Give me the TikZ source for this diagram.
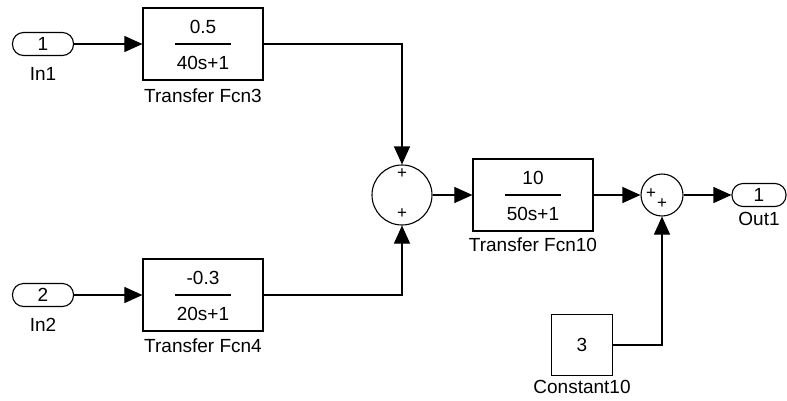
\documentclass[tikz,border=0pt]{standalone}
\usepackage{fontspec}
\setmainfont{Liberation Sans}
\usetikzlibrary{arrows.meta, positioning}

\begin{document}
\begin{tikzpicture}[
      x=1pt, y=-1pt,
      font=\fontsize{19pt}{21pt}\selectfont,
      box/.style={draw, line width=1.2pt, minimum width=120pt, minimum height=72pt, inner sep=0pt},
      port/.style={draw, line width=1.1pt, rounded corners=11pt, minimum width=61pt, minimum height=23pt, inner sep=0pt},
      sumc/.style={draw, circle, line width=1.1pt, inner sep=0pt},
      lbl/.style={inner sep=0pt},
      sgn/.style={inner sep=0pt, font=\fontsize{17pt}{17pt}\selectfont},
      arrow/.style={-{Triangle[length=18pt, width=16pt]}, line width=1.1pt}
  ]
    \useasboundingbox (0,0) rectangle (787,400);

    % inputs
    \node[port] (in1) at (43,44) {1};
    \node[lbl, below=11pt of in1] {In1};
    \node[port] (in2) at (43,295) {2};
    \node[lbl, below=11pt of in2] {In2};

    % first stage
    \node[box] (fcn3) at (203,44) {};
    \draw[line width=1.1pt] ([xshift=-28pt]fcn3.center) -- ([xshift=28pt]fcn3.center);
    \node[lbl] at ([yshift=17pt]fcn3.center) {0.5};
    \node[lbl] at ([yshift=-19pt]fcn3.center) {40s+1};
    \node[lbl, below=8pt of fcn3] {Transfer Fcn3};

    \node[box] (fcn4) at (203,295) {};
    \draw[line width=1.1pt] ([xshift=-28pt]fcn4.center) -- ([xshift=28pt]fcn4.center);
    \node[lbl] at ([yshift=17pt]fcn4.center) {-0.3};
    \node[lbl] at ([yshift=-19pt]fcn4.center) {20s+1};
    \node[lbl, below=7pt of fcn4] {Transfer Fcn4};

    % sums
    \node[sumc, minimum size=60pt] (sum1) at (402,195) {};
    \node[sgn] at ([yshift=21pt]sum1.center) {+};
    \node[sgn] at ([yshift=-19pt]sum1.center) {+};

    \node[box, minimum height=72pt] (fcn10) at (533,195) {};
    \draw[line width=1.1pt] ([xshift=-28pt]fcn10.center) -- ([xshift=28pt]fcn10.center);
    \node[lbl] at ([yshift=17pt]fcn10.center) {10};
    \node[lbl] at ([yshift=-19pt]fcn10.center) {50s+1};
    \node[lbl, below=6pt of fcn10] {Transfer Fcn10};

    \node[sumc, minimum size=42pt] (sum2) at (662,195) {};
    \node[sgn] at ([xshift=-11pt, yshift=1pt]sum2.center) {+};
    \node[sgn] at ([yshift=-9pt]sum2.center) {+};

    \node[box, minimum width=61pt, minimum height=61pt] (const) at (582,345) {3};
    \node[lbl, below=4pt of const] {Constant10};

    % output
    \node[port, minimum width=54pt] (out1) at (759,195) {1};
    \node[lbl, below=5pt of out1] {Out1};

    % signals
    \draw[arrow] (in1) -- (fcn3);
    \draw[arrow] (in2) -- (fcn4);
    \draw[arrow] (fcn3.east) -| (sum1.north);
    \draw[arrow] (fcn4.east) -| (sum1.south);
    \draw[arrow] (sum1) -- (fcn10);
    \draw[arrow] (fcn10) -- (sum2);
    \draw[arrow] (sum2) -- (out1);
    \draw[arrow] (const.east) -| (sum2.south);
  \end{tikzpicture}
\end{document}
